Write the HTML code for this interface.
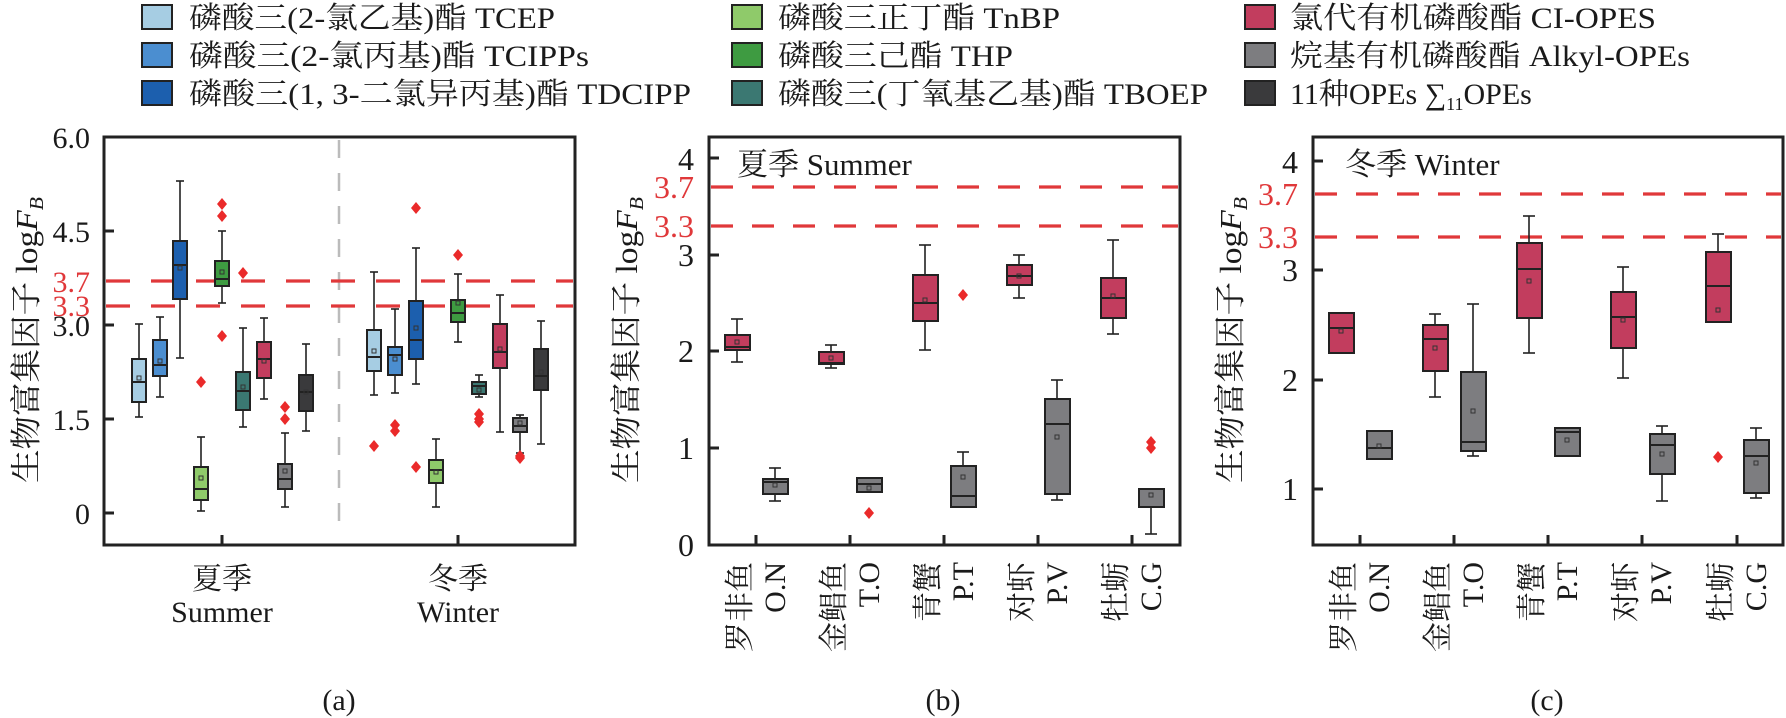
<!DOCTYPE html>
<html><head><meta charset="utf-8"><style>
html,body{margin:0;padding:0;background:#fff}
svg{display:block}
text{font-family:"Liberation Serif","Noto Serif CJK SC",serif;fill:#1a1a1a}
.bx{stroke:#222;stroke-width:2}
.wl{stroke:#222;stroke-width:1.6}
.ax{stroke:#222;stroke-width:3;fill:none}
.rd{stroke:#e0383a;stroke-width:3.2}
.mn{fill:none;stroke:#333;stroke-width:1}
.ol{fill:#ea2a2a}
</style></head><body>
<svg width="1786" height="718" viewBox="0 0 1786 718" xmlns="http://www.w3.org/2000/svg">
<defs>
<path id="dm" d="M0,-6 L5,0 L0,6 L-5,0Z" class="ol"/>
</defs>
<!-- Legend -->
<g font-size="30">
<rect x="142" y="5" width="30" height="24" fill="#a6cde3" class="bx"/>
<rect x="142" y="43" width="30" height="24" fill="#4b8ed0" class="bx"/>
<rect x="142" y="81" width="30" height="24" fill="#1c5fae" class="bx"/>
<text x="189" y="28" textLength="366" lengthAdjust="spacingAndGlyphs">磷酸三(2-氯乙基)酯 TCEP</text>
<text x="189" y="66" textLength="400" lengthAdjust="spacingAndGlyphs">磷酸三(2-氯丙基)酯 TCIPPs</text>
<text x="189" y="104" textLength="502" lengthAdjust="spacingAndGlyphs">磷酸三(1, 3-二氯异丙基)酯 TDCIPP</text>
<rect x="732" y="5" width="30" height="24" fill="#8fca6a" class="bx"/>
<rect x="732" y="43" width="30" height="24" fill="#3e9b41" class="bx"/>
<rect x="732" y="81" width="30" height="24" fill="#3b7872" class="bx"/>
<text x="778" y="28" textLength="282" lengthAdjust="spacingAndGlyphs">磷酸三正丁酯 TnBP</text>
<text x="778" y="66" textLength="235" lengthAdjust="spacingAndGlyphs">磷酸三己酯 THP</text>
<text x="778" y="104" textLength="430" lengthAdjust="spacingAndGlyphs">磷酸三(丁氧基乙基)酯 TBOEP</text>
<rect x="1245" y="5" width="30" height="24" fill="#c23d5e" class="bx"/>
<rect x="1245" y="43" width="30" height="24" fill="#7d7d80" class="bx"/>
<rect x="1245" y="81" width="30" height="24" fill="#3a3a3c" class="bx"/>
<text x="1290" y="28" textLength="366" lengthAdjust="spacingAndGlyphs">氯代有机磷酸酯 CI-OPES</text>
<text x="1290" y="66" textLength="400" lengthAdjust="spacingAndGlyphs">烷基有机磷酸酯 Alkyl-OPEs</text>
<text x="1290" y="104">11种OPEs ∑<tspan font-size="18" dy="6">11</tspan><tspan dy="-6">OPEs</tspan></text>
</g>

<!-- ===== Panel A ===== -->
<line x1="339" y1="140" x2="339" y2="532" stroke="#bbb" stroke-width="2.5" stroke-dasharray="18,15"/>
<line x1="106" y1="281" x2="573" y2="281" class="rd" stroke-dasharray="24,21"/>
<line x1="106" y1="306" x2="573" y2="306" class="rd" stroke-dasharray="24,21"/>
<rect x="104" y="137" width="471" height="408" class="ax"/>
<g class="ax" stroke-width="2.5">
<line x1="104" y1="231" x2="114" y2="231"/><line x1="104" y1="325" x2="114" y2="325"/>
<line x1="104" y1="419" x2="114" y2="419"/><line x1="104" y1="513" x2="114" y2="513"/>
<line x1="222" y1="545" x2="222" y2="535"/><line x1="458" y1="545" x2="458" y2="535"/>
</g>
<g font-size="30" text-anchor="end">
<text x="90" y="148">6.0</text><text x="90" y="242">4.5</text>
<text x="90" y="292" style="fill:#e0383a">3.7</text>
<text x="90" y="316" style="fill:#e0383a">3.3</text>
<text x="90" y="336">3.0</text><text x="90" y="430">1.5</text><text x="90" y="524">0</text>
</g>
<text transform="translate(37,340) rotate(-90)" font-size="31" text-anchor="middle" textLength="286" lengthAdjust="spacingAndGlyphs">生物富集因子 log<tspan font-style="italic">F</tspan><tspan font-style="italic" font-size="20" dy="6">B</tspan></text>
<g font-size="30" text-anchor="middle">
<text x="222" y="589">夏季</text><text x="222" y="622">Summer</text>
<text x="458" y="589">冬季</text><text x="458" y="622">Winter</text>
<text x="339" y="710">(a)</text><text x="943" y="710">(b)</text><text x="1547" y="710">(c)</text>
</g>
<g>
<g><line x1="139" y1="324" x2="139" y2="417" class="wl"/><line x1="135" y1="324" x2="143" y2="324" class="wl"/><line x1="135" y1="417" x2="143" y2="417" class="wl"/><rect x="132" y="359" width="14" height="43" fill="#a6cde3" class="bx"/><line x1="132" y1="382" x2="146" y2="382" class="bx"/><rect x="137" y="376" width="4" height="4" class="mn"/></g>
<g><line x1="160" y1="317" x2="160" y2="397" class="wl"/><line x1="156" y1="317" x2="164" y2="317" class="wl"/><line x1="156" y1="397" x2="164" y2="397" class="wl"/><rect x="153" y="340" width="14" height="36" fill="#4b8ed0" class="bx"/><line x1="153" y1="365" x2="167" y2="365" class="bx"/><rect x="158" y="359" width="4" height="4" class="mn"/></g>
<g><line x1="180" y1="181" x2="180" y2="358" class="wl"/><line x1="176" y1="181" x2="184" y2="181" class="wl"/><line x1="176" y1="358" x2="184" y2="358" class="wl"/><rect x="173" y="241" width="14" height="58" fill="#1c5fae" class="bx"/><line x1="173" y1="265" x2="187" y2="265" class="bx"/><rect x="178" y="266" width="4" height="4" class="mn"/></g>
<g><line x1="201" y1="437" x2="201" y2="511" class="wl"/><line x1="197" y1="437" x2="205" y2="437" class="wl"/><line x1="197" y1="511" x2="205" y2="511" class="wl"/><rect x="194" y="467" width="14" height="33" fill="#8fca6a" class="bx"/><line x1="194" y1="489" x2="208" y2="489" class="bx"/><rect x="199" y="476" width="4" height="4" class="mn"/></g>
<g><line x1="222" y1="231" x2="222" y2="303" class="wl"/><line x1="218" y1="231" x2="226" y2="231" class="wl"/><line x1="218" y1="303" x2="226" y2="303" class="wl"/><rect x="215" y="261" width="14" height="25" fill="#3e9b41" class="bx"/><line x1="215" y1="279" x2="229" y2="279" class="bx"/><rect x="220" y="270" width="4" height="4" class="mn"/></g>
<g><line x1="243" y1="328" x2="243" y2="427" class="wl"/><line x1="239" y1="328" x2="247" y2="328" class="wl"/><line x1="239" y1="427" x2="247" y2="427" class="wl"/><rect x="236" y="372" width="14" height="38" fill="#3b7872" class="bx"/><line x1="236" y1="391" x2="250" y2="391" class="bx"/><rect x="241" y="385" width="4" height="4" class="mn"/></g>
<g><line x1="264" y1="318" x2="264" y2="399" class="wl"/><line x1="260" y1="318" x2="268" y2="318" class="wl"/><line x1="260" y1="399" x2="268" y2="399" class="wl"/><rect x="257" y="342" width="14" height="36" fill="#c23d5e" class="bx"/><line x1="257" y1="359" x2="271" y2="359" class="bx"/><rect x="262" y="359" width="4" height="4" class="mn"/></g>
<g><line x1="285" y1="433" x2="285" y2="507" class="wl"/><line x1="281" y1="433" x2="289" y2="433" class="wl"/><line x1="281" y1="507" x2="289" y2="507" class="wl"/><rect x="278" y="464" width="14" height="25" fill="#7d7d80" class="bx"/><line x1="278" y1="479" x2="292" y2="479" class="bx"/><rect x="283" y="469" width="4" height="4" class="mn"/></g>
<g><line x1="306" y1="344" x2="306" y2="431" class="wl"/><line x1="302" y1="344" x2="310" y2="344" class="wl"/><line x1="302" y1="431" x2="310" y2="431" class="wl"/><rect x="299" y="375" width="14" height="36" fill="#3a3a3c" class="bx"/><line x1="299" y1="392" x2="313" y2="392" class="bx"/><rect x="304" y="390" width="4" height="4" class="mn"/></g>
<g><line x1="374" y1="272" x2="374" y2="395" class="wl"/><line x1="370" y1="272" x2="378" y2="272" class="wl"/><line x1="370" y1="395" x2="378" y2="395" class="wl"/><rect x="367" y="330" width="14" height="41" fill="#a6cde3" class="bx"/><line x1="367" y1="357" x2="381" y2="357" class="bx"/><rect x="372" y="349" width="4" height="4" class="mn"/></g>
<g><line x1="395" y1="309" x2="395" y2="393" class="wl"/><line x1="391" y1="309" x2="399" y2="309" class="wl"/><line x1="391" y1="393" x2="399" y2="393" class="wl"/><rect x="388" y="347" width="14" height="28" fill="#4b8ed0" class="bx"/><line x1="388" y1="355" x2="402" y2="355" class="bx"/><rect x="393" y="357" width="4" height="4" class="mn"/></g>
<g><line x1="416" y1="248" x2="416" y2="384" class="wl"/><line x1="412" y1="248" x2="420" y2="248" class="wl"/><line x1="412" y1="384" x2="420" y2="384" class="wl"/><rect x="409" y="301" width="14" height="58" fill="#1c5fae" class="bx"/><line x1="409" y1="340" x2="423" y2="340" class="bx"/><rect x="414" y="326" width="4" height="4" class="mn"/></g>
<g><line x1="436" y1="439" x2="436" y2="507" class="wl"/><line x1="432" y1="439" x2="440" y2="439" class="wl"/><line x1="432" y1="507" x2="440" y2="507" class="wl"/><rect x="429" y="460" width="14" height="23" fill="#8fca6a" class="bx"/><line x1="429" y1="470" x2="443" y2="470" class="bx"/><rect x="434" y="470" width="4" height="4" class="mn"/></g>
<g><line x1="458" y1="274" x2="458" y2="342" class="wl"/><line x1="454" y1="274" x2="462" y2="274" class="wl"/><line x1="454" y1="342" x2="462" y2="342" class="wl"/><rect x="451" y="300" width="14" height="22" fill="#3e9b41" class="bx"/><line x1="451" y1="313" x2="465" y2="313" class="bx"/><rect x="456" y="301" width="4" height="4" class="mn"/></g>
<g><line x1="479" y1="375" x2="479" y2="397" class="wl"/><line x1="475" y1="375" x2="483" y2="375" class="wl"/><line x1="475" y1="397" x2="483" y2="397" class="wl"/><rect x="472" y="382" width="14" height="12" fill="#3b7872" class="bx"/><line x1="472" y1="386" x2="486" y2="386" class="bx"/><rect x="477" y="388" width="4" height="4" class="mn"/></g>
<g><line x1="500" y1="295" x2="500" y2="432" class="wl"/><line x1="496" y1="295" x2="504" y2="295" class="wl"/><line x1="496" y1="432" x2="504" y2="432" class="wl"/><rect x="493" y="324" width="14" height="44" fill="#c23d5e" class="bx"/><line x1="493" y1="352" x2="507" y2="352" class="bx"/><rect x="498" y="347" width="4" height="4" class="mn"/></g>
<g><line x1="520" y1="415" x2="520" y2="453" class="wl"/><line x1="516" y1="415" x2="524" y2="415" class="wl"/><line x1="516" y1="453" x2="524" y2="453" class="wl"/><rect x="513" y="418" width="14" height="14" fill="#7d7d80" class="bx"/><line x1="513" y1="426" x2="527" y2="426" class="bx"/><rect x="518" y="421" width="4" height="4" class="mn"/></g>
<g><line x1="541" y1="321" x2="541" y2="444" class="wl"/><line x1="537" y1="321" x2="545" y2="321" class="wl"/><line x1="537" y1="444" x2="545" y2="444" class="wl"/><rect x="534" y="349" width="14" height="41" fill="#3a3a3c" class="bx"/><line x1="534" y1="376" x2="548" y2="376" class="bx"/><rect x="539" y="370" width="4" height="4" class="mn"/></g>
</g>
<g>
<use href="#dm" x="201" y="382"/><use href="#dm" x="222" y="204"/><use href="#dm" x="222" y="216"/><use href="#dm" x="222" y="336"/>
<use href="#dm" x="243" y="273"/><use href="#dm" x="285" y="407"/><use href="#dm" x="285" y="419"/>
<use href="#dm" x="374" y="446"/><use href="#dm" x="395" y="425"/><use href="#dm" x="395" y="431"/>
<use href="#dm" x="416" y="208"/><use href="#dm" x="416" y="467"/><use href="#dm" x="458" y="255"/>
<use href="#dm" x="479" y="414"/><use href="#dm" x="479" y="419"/><use href="#dm" x="479" y="422"/>
<use href="#dm" x="520" y="456"/><use href="#dm" x="520" y="458"/>
</g>

<!-- ===== Panel B ===== -->
<line x1="711" y1="187" x2="1178" y2="187" class="rd" stroke-dasharray="22,19"/>
<line x1="711" y1="226" x2="1178" y2="226" class="rd" stroke-dasharray="22,19"/>
<rect x="709" y="137" width="471" height="408" class="ax"/>
<g class="ax" stroke-width="2.5">
<line x1="709" y1="158" x2="719" y2="158"/><line x1="709" y1="255" x2="719" y2="255"/>
<line x1="709" y1="351" x2="719" y2="351"/><line x1="709" y1="448" x2="719" y2="448"/>
<line x1="756" y1="545" x2="756" y2="535"/><line x1="850" y1="545" x2="850" y2="535"/><line x1="944" y1="545" x2="944" y2="535"/><line x1="1038" y1="545" x2="1038" y2="535"/><line x1="1132" y1="545" x2="1132" y2="535"/>
</g>
<g font-size="32" text-anchor="end">
<text x="694" y="170">4</text><text x="694" y="198" style="fill:#e0383a">3.7</text><text x="694" y="237" style="fill:#e0383a">3.3</text>
<text x="694" y="266">3</text><text x="694" y="362">2</text><text x="694" y="459">1</text><text x="694" y="556">0</text>
</g>
<text x="737" y="175" font-size="31">夏季 Summer</text>
<text transform="translate(637,340) rotate(-90)" font-size="31" text-anchor="middle" textLength="286" lengthAdjust="spacingAndGlyphs">生物富集因子 log<tspan font-style="italic">F</tspan><tspan font-style="italic" font-size="20" dy="6">B</tspan></text>
<g font-size="30" text-anchor="end">
<text transform="translate(750,562) rotate(-90)">罗非鱼</text><text transform="translate(785,562) rotate(-90)">O.N</text>
<text transform="translate(844,562) rotate(-90)">金鲳鱼</text><text transform="translate(879,562) rotate(-90)">T.O</text>
<text transform="translate(938,562) rotate(-90)">青蟹</text><text transform="translate(973,562) rotate(-90)">P.T</text>
<text transform="translate(1032,562) rotate(-90)">对虾</text><text transform="translate(1067,562) rotate(-90)">P.V</text>
<text transform="translate(1126,562) rotate(-90)">牡蛎</text><text transform="translate(1161,562) rotate(-90)">C.G</text>
</g>
<g>
<g><line x1="737" y1="319" x2="737" y2="362" class="wl"/><line x1="731" y1="319" x2="743" y2="319" class="wl"/><line x1="731" y1="362" x2="743" y2="362" class="wl"/><rect x="725" y="335" width="25" height="15" fill="#c23d5e" class="bx"/><line x1="725" y1="347" x2="750" y2="347" class="bx"/><rect x="735" y="340" width="4" height="4" class="mn"/></g>
<g><line x1="775" y1="468" x2="775" y2="501" class="wl"/><line x1="769" y1="468" x2="781" y2="468" class="wl"/><line x1="769" y1="501" x2="781" y2="501" class="wl"/><rect x="763" y="479" width="25" height="15" fill="#7d7d80" class="bx"/><line x1="763" y1="482" x2="788" y2="482" class="bx"/><rect x="773" y="483" width="4" height="4" class="mn"/></g>
<g><line x1="831" y1="345" x2="831" y2="368" class="wl"/><line x1="825" y1="345" x2="837" y2="345" class="wl"/><line x1="825" y1="368" x2="837" y2="368" class="wl"/><rect x="819" y="352" width="25" height="12" fill="#c23d5e" class="bx"/><line x1="819" y1="363" x2="844" y2="363" class="bx"/><rect x="829" y="356" width="4" height="4" class="mn"/></g>
<g><rect x="857" y="478" width="25" height="14" fill="#7d7d80" class="bx"/><line x1="857" y1="484" x2="882" y2="484" class="bx"/><rect x="867" y="486" width="4" height="4" class="mn"/></g>
<g><line x1="925" y1="245" x2="925" y2="350" class="wl"/><line x1="919" y1="245" x2="931" y2="245" class="wl"/><line x1="919" y1="350" x2="931" y2="350" class="wl"/><rect x="913" y="275" width="25" height="46" fill="#c23d5e" class="bx"/><line x1="913" y1="303" x2="938" y2="303" class="bx"/><rect x="923" y="298" width="4" height="4" class="mn"/></g>
<g><line x1="963" y1="452" x2="963" y2="466" class="wl"/><line x1="957" y1="452" x2="969" y2="452" class="wl"/><rect x="951" y="466" width="25" height="41" fill="#7d7d80" class="bx"/><line x1="951" y1="496" x2="976" y2="496" class="bx"/><rect x="961" y="475" width="4" height="4" class="mn"/></g>
<g><line x1="1019" y1="255" x2="1019" y2="298" class="wl"/><line x1="1013" y1="255" x2="1025" y2="255" class="wl"/><line x1="1013" y1="298" x2="1025" y2="298" class="wl"/><rect x="1007" y="265" width="25" height="20" fill="#c23d5e" class="bx"/><line x1="1007" y1="276" x2="1032" y2="276" class="bx"/><rect x="1017" y="274" width="4" height="4" class="mn"/></g>
<g><line x1="1057" y1="380" x2="1057" y2="500" class="wl"/><line x1="1051" y1="380" x2="1063" y2="380" class="wl"/><line x1="1051" y1="500" x2="1063" y2="500" class="wl"/><rect x="1045" y="399" width="25" height="95" fill="#7d7d80" class="bx"/><line x1="1045" y1="424" x2="1070" y2="424" class="bx"/><rect x="1055" y="435" width="4" height="4" class="mn"/></g>
<g><line x1="1113" y1="240" x2="1113" y2="334" class="wl"/><line x1="1107" y1="240" x2="1119" y2="240" class="wl"/><line x1="1107" y1="334" x2="1119" y2="334" class="wl"/><rect x="1101" y="278" width="25" height="40" fill="#c23d5e" class="bx"/><line x1="1101" y1="298" x2="1126" y2="298" class="bx"/><rect x="1111" y="294" width="4" height="4" class="mn"/></g>
<g><line x1="1151" y1="507" x2="1151" y2="534" class="wl"/><line x1="1145" y1="534" x2="1157" y2="534" class="wl"/><rect x="1139" y="489" width="25" height="18" fill="#7d7d80" class="bx"/><rect x="1149" y="493" width="4" height="4" class="mn"/></g>
<use href="#dm" x="869" y="513"/><use href="#dm" x="963" y="295"/><use href="#dm" x="1151" y="442"/><use href="#dm" x="1151" y="448"/>
</g>

<!-- ===== Panel C ===== -->
<line x1="1315" y1="194" x2="1781" y2="194" class="rd" stroke-dasharray="22,19"/>
<line x1="1315" y1="237" x2="1781" y2="237" class="rd" stroke-dasharray="22,19"/>
<rect x="1313" y="137" width="470" height="408" class="ax"/>
<g class="ax" stroke-width="2.5">
<line x1="1313" y1="161" x2="1323" y2="161"/><line x1="1313" y1="270" x2="1323" y2="270"/>
<line x1="1313" y1="380" x2="1323" y2="380"/><line x1="1313" y1="489" x2="1323" y2="489"/>
<line x1="1360" y1="545" x2="1360" y2="535"/><line x1="1454" y1="545" x2="1454" y2="535"/><line x1="1548" y1="545" x2="1548" y2="535"/><line x1="1642" y1="545" x2="1642" y2="535"/><line x1="1737" y1="545" x2="1737" y2="535"/>
</g>
<g font-size="32" text-anchor="end">
<text x="1298" y="173">4</text><text x="1298" y="205" style="fill:#e0383a">3.7</text><text x="1298" y="248" style="fill:#e0383a">3.3</text>
<text x="1298" y="281">3</text><text x="1298" y="391">2</text><text x="1298" y="500">1</text>
</g>
<text x="1345" y="175" font-size="31">冬季 Winter</text>
<text transform="translate(1241,340) rotate(-90)" font-size="31" text-anchor="middle" textLength="286" lengthAdjust="spacingAndGlyphs">生物富集因子 log<tspan font-style="italic">F</tspan><tspan font-style="italic" font-size="20" dy="6">B</tspan></text>
<g font-size="30" text-anchor="end">
<text transform="translate(1354,562) rotate(-90)">罗非鱼</text><text transform="translate(1389,562) rotate(-90)">O.N</text>
<text transform="translate(1448,562) rotate(-90)">金鲳鱼</text><text transform="translate(1483,562) rotate(-90)">T.O</text>
<text transform="translate(1542,562) rotate(-90)">青蟹</text><text transform="translate(1577,562) rotate(-90)">P.T</text>
<text transform="translate(1636,562) rotate(-90)">对虾</text><text transform="translate(1671,562) rotate(-90)">P.V</text>
<text transform="translate(1731,562) rotate(-90)">牡蛎</text><text transform="translate(1766,562) rotate(-90)">C.G</text>
</g>
<g>
<g><rect x="1329" y="313" width="25" height="40" fill="#c23d5e" class="bx"/><line x1="1329" y1="328" x2="1354" y2="328" class="bx"/><rect x="1339" y="329" width="4" height="4" class="mn"/></g>
<g><rect x="1367" y="431" width="25" height="28" fill="#7d7d80" class="bx"/><line x1="1367" y1="448" x2="1392" y2="448" class="bx"/><rect x="1377" y="444" width="4" height="4" class="mn"/></g>
<g><line x1="1435" y1="314" x2="1435" y2="397" class="wl"/><line x1="1429" y1="314" x2="1441" y2="314" class="wl"/><line x1="1429" y1="397" x2="1441" y2="397" class="wl"/><rect x="1423" y="325" width="25" height="46" fill="#c23d5e" class="bx"/><line x1="1423" y1="339" x2="1448" y2="339" class="bx"/><rect x="1433" y="346" width="4" height="4" class="mn"/></g>
<g><line x1="1473" y1="304" x2="1473" y2="456" class="wl"/><line x1="1467" y1="304" x2="1479" y2="304" class="wl"/><line x1="1467" y1="456" x2="1479" y2="456" class="wl"/><rect x="1461" y="372" width="25" height="79" fill="#7d7d80" class="bx"/><line x1="1461" y1="442" x2="1486" y2="442" class="bx"/><rect x="1471" y="409" width="4" height="4" class="mn"/></g>
<g><line x1="1529" y1="216" x2="1529" y2="353" class="wl"/><line x1="1523" y1="216" x2="1535" y2="216" class="wl"/><line x1="1523" y1="353" x2="1535" y2="353" class="wl"/><rect x="1517" y="243" width="25" height="75" fill="#c23d5e" class="bx"/><line x1="1517" y1="269" x2="1542" y2="269" class="bx"/><rect x="1527" y="279" width="4" height="4" class="mn"/></g>
<g><rect x="1555" y="428" width="25" height="28" fill="#7d7d80" class="bx"/><line x1="1555" y1="432" x2="1580" y2="432" class="bx"/><rect x="1565" y="438" width="4" height="4" class="mn"/></g>
<g><line x1="1623" y1="267" x2="1623" y2="378" class="wl"/><line x1="1617" y1="267" x2="1629" y2="267" class="wl"/><line x1="1617" y1="378" x2="1629" y2="378" class="wl"/><rect x="1611" y="292" width="25" height="56" fill="#c23d5e" class="bx"/><line x1="1611" y1="317" x2="1636" y2="317" class="bx"/><rect x="1621" y="318" width="4" height="4" class="mn"/></g>
<g><line x1="1662" y1="426" x2="1662" y2="501" class="wl"/><line x1="1656" y1="426" x2="1668" y2="426" class="wl"/><line x1="1656" y1="501" x2="1668" y2="501" class="wl"/><rect x="1650" y="434" width="25" height="40" fill="#7d7d80" class="bx"/><line x1="1650" y1="445" x2="1675" y2="445" class="bx"/><rect x="1660" y="452" width="4" height="4" class="mn"/></g>
<g><line x1="1718" y1="234" x2="1718" y2="252" class="wl"/><line x1="1712" y1="234" x2="1724" y2="234" class="wl"/><rect x="1706" y="252" width="25" height="70" fill="#c23d5e" class="bx"/><line x1="1706" y1="286" x2="1731" y2="286" class="bx"/><rect x="1716" y="308" width="4" height="4" class="mn"/></g>
<g><line x1="1756" y1="428" x2="1756" y2="498" class="wl"/><line x1="1750" y1="428" x2="1762" y2="428" class="wl"/><line x1="1750" y1="498" x2="1762" y2="498" class="wl"/><rect x="1744" y="440" width="25" height="53" fill="#7d7d80" class="bx"/><line x1="1744" y1="456" x2="1769" y2="456" class="bx"/><rect x="1754" y="461" width="4" height="4" class="mn"/></g>
<use href="#dm" x="1718" y="457"/>
</g>
</svg>
</body></html>
